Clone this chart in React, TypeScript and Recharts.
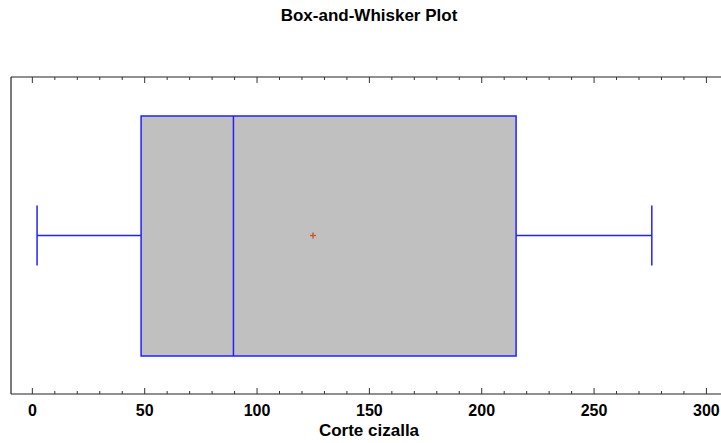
import React from 'react';
import { ComposedChart, XAxis, YAxis, ReferenceArea, Line, Scatter } from 'recharts';

// Five-number summary plus mean for the one variable
const variables = ['Corte cizalla'];
const minimums = [2.1];
const lowerQuartiles = [48.4];
const medians = [89.5];
const upperQuartiles = [215.3];
const maximums = [275.7];
const means = [124.9];

const xTicks = [
  0, 10, 20, 30, 40, 50, 60, 70, 80, 90, 100, 110, 120, 130, 140, 150, 160,
  170, 180, 190, 200, 210, 220, 230, 240, 250, 260, 270, 280, 290, 300,
];

// vertical layout of the box inside the unit-height band
const BOX_LOW = 0.12;
const BOX_HIGH = 0.877;
const CAP_LOW = 0.405;
const CAP_HIGH = 0.595;
const MID = 0.5;

const WIDTH = 740;
const HEIGHT = 443;
const MARGIN = { top: 76, right: 9, bottom: 48, left: 10 };
const AXIS_H = 1;
const PLOT_H = HEIGHT - MARGIN.top - MARGIN.bottom - 2 * AXIS_H;

const FONT = '"Liberation Sans", Arial, sans-serif';
const BLUE = '#2222ff';
const FRAME = { stroke: '#222', strokeWidth: 1.2 };

// bottom axis tick: draws the inward mark on both frame edges plus the label
const AxisTick = ({ x, y, payload }) => {
  const major = payload.value % 50 === 0;
  const len = major ? 6 : 3;
  const top = y - PLOT_H;
  return (
    <g>
      <line x1={x} y1={y} x2={x} y2={y - len} stroke="#333" strokeWidth={1} />
      <line x1={x} y1={top} x2={x} y2={top + len} stroke="#333" strokeWidth={1} />
      {major && (
        <text
          x={x}
          y={y + 21.5}
          textAnchor="middle"
          fontFamily={FONT}
          fontWeight="bold"
          fontSize={16}
          fill="#000"
        >
          {payload.value}
        </text>
      )}
    </g>
  );
};

const MeanMark = ({ cx, cy }) => (
  <g stroke="#c85a1e" strokeWidth={1.4}>
    <line x1={cx - 3} y1={cy} x2={cx + 3} y2={cy} />
    <line x1={cx} y1={cy - 3} x2={cx} y2={cy + 3} />
  </g>
);

export default function App() {
  const meanData = means.map((m, i) => ({ name: variables[i], x: m, y: MID }));

  // median, whiskers and caps as two-point line series
  const segments = variables.flatMap((v, i) => [
    { id: `median-${v}`, pts: [{ x: medians[i], y: BOX_LOW }, { x: medians[i], y: BOX_HIGH }] },
    { id: `lo-${v}`, pts: [{ x: minimums[i], y: MID }, { x: lowerQuartiles[i], y: MID }] },
    { id: `hi-${v}`, pts: [{ x: upperQuartiles[i], y: MID }, { x: maximums[i], y: MID }] },
    { id: `capLo-${v}`, pts: [{ x: minimums[i], y: CAP_LOW }, { x: minimums[i], y: CAP_HIGH }] },
    { id: `capHi-${v}`, pts: [{ x: maximums[i], y: CAP_LOW }, { x: maximums[i], y: CAP_HIGH }] },
  ]);

  return (
    <div
      style={{
        position: 'absolute',
        left: 0,
        top: 0,
        width: 721,
        height: 443,
        overflow: 'hidden',
        background: '#fff',
      }}
    >
      <ComposedChart width={WIDTH} height={HEIGHT} margin={MARGIN}>
        <XAxis
          xAxisId="bottom"
          type="number"
          dataKey="x"
          domain={[-9.5, 310.5]}
          ticks={xTicks}
          interval={0}
          orientation="bottom"
          height={AXIS_H}
          tickSize={0}
          tickMargin={0}
          tickLine={false}
          axisLine={FRAME}
          tick={<AxisTick />}
        />
        <XAxis
          xAxisId="top"
          type="number"
          dataKey="x"
          domain={[-9.5, 310.5]}
          orientation="top"
          height={AXIS_H}
          tick={false}
          tickLine={false}
          axisLine={FRAME}
        />
        <YAxis
          yAxisId="left"
          type="number"
          dataKey="y"
          domain={[0, 1]}
          width={1}
          tick={false}
          tickLine={false}
          axisLine={FRAME}
        />
        <YAxis
          yAxisId="right"
          orientation="right"
          type="number"
          domain={[0, 1]}
          width={1}
          tick={false}
          tickLine={false}
          axisLine={FRAME}
        />

        {variables.map((v, i) => (
          <ReferenceArea
            key={`box-${v}`}
            xAxisId="bottom"
            yAxisId="left"
            x1={lowerQuartiles[i]}
            x2={upperQuartiles[i]}
            y1={BOX_LOW}
            y2={BOX_HIGH}
            fill="#c0c0c0"
            fillOpacity={1}
            stroke={BLUE}
            strokeWidth={1.5}
          />
        ))}

        {segments.map((s) => (
          <Line
            key={s.id}
            xAxisId="bottom"
            yAxisId="left"
            data={s.pts}
            dataKey="y"
            type="linear"
            stroke={BLUE}
            strokeWidth={1.5}
            dot={false}
            activeDot={false}
            isAnimationActive={false}
          />
        ))}

        <Scatter
          xAxisId="bottom"
          yAxisId="left"
          data={meanData}
          dataKey="y"
          shape={<MeanMark />}
          isAnimationActive={false}
        />
      </ComposedChart>

      <svg
        width={721}
        height={443}
        style={{ position: 'absolute', left: 0, top: 0, pointerEvents: 'none' }}
      >
        <text
          x={369}
          y={21}
          textAnchor="middle"
          fontFamily={FONT}
          fontWeight="bold"
          fontSize={17}
          fill="#000"
        >
          Box-and-Whisker Plot
        </text>
        <text
          x={369}
          y={436}
          textAnchor="middle"
          fontFamily={FONT}
          fontWeight="bold"
          fontSize={17}
          fill="#000"
        >
          {variables[0]}
        </text>
      </svg>
    </div>
  );
}
